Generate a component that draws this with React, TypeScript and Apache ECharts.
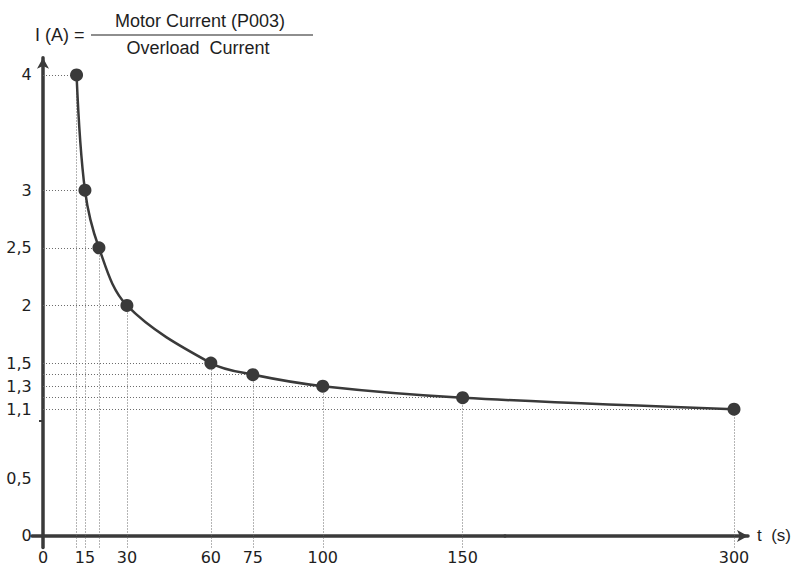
import React, { useEffect, useRef } from "react";
import * as echarts from "echarts";

// ---- data ----
const times: number[] = [12, 15, 20, 30, 60, 75, 100, 150, 300];
const currents: number[] = [4, 3, 2.5, 2, 1.5, 1.4, 1.3, 1.2, 1.1];
const xTickLabels: number[] = [0, 15, 30, 60, 75, 100, 150, 300];
const yTickLabels: number[] = [0, 0.5, 1.1, 1.3, 1.5, 2, 2.5, 3, 4];
const yMinorTicks: number[] = [1];
const xBreak = { start: 165, end: 218 };

const FONT = "'Liberation Sans', Arial, Helvetica, sans-serif";
const TICK_FONT = "'DejaVu Sans', Verdana, sans-serif";
const INK = "#3a3a3a";
const TEXT = "#1e1e1e";

const X_MIN = -4;
const X_MAX = 305;
const Y_MIN = -0.1;
const Y_MAX = 4.15;

export default function App() {
  const ref = useRef<HTMLDivElement>(null);
  useEffect(() => {
    if (!ref.current) return;
    const chart = echarts.init(ref.current, null, { renderer: "svg" });
    const points = times.map((t, i) => [t, currents[i]]);
    const guideData: any[] = [];
    points.forEach(([t, v]) => {
      guideData.push([{ coord: [t, Y_MIN] }, { coord: [t, v] }]);
      guideData.push([{ coord: [0, v] }, { coord: [t, v] }]);
    });
    const option: any = {
      animation: false,
      backgroundColor: "#ffffff",
      textStyle: { fontFamily: FONT },
      grid: {
        left: 31.8,
        right: 51,
        top: 57.7,
        bottom: 19.5,
        containLabel: false,
        outerBoundsMode: "none",
      },
      xAxis: {
        type: "value",
        min: X_MIN,
        max: X_MAX,
        breaks: [{ start: xBreak.start, end: xBreak.end, gap: 0 }],
        breakArea: { show: false },
        splitLine: { show: false },
        name: "t  (s)",
        nameLocation: "end",
        nameGap: 9,
        nameTextStyle: { fontSize: 17, color: TEXT, fontFamily: FONT },
        axisLine: {
          show: true,
          onZero: true,
          symbol: ["none", "arrow"],
          symbolSize: [9, 11],
          lineStyle: { color: INK, width: 3.5 },
        },
        axisTick: { show: false },
        axisLabel: {
          customValues: xTickLabels,
          fontSize: 16,
          color: TEXT,
          fontFamily: TICK_FONT,
          margin: 2,
        },
      },
      yAxis: {
        type: "value",
        min: Y_MIN,
        max: Y_MAX,
        splitLine: { show: false },
        axisLine: {
          show: true,
          onZero: true,
          symbol: ["none", "arrow"],
          symbolSize: [9, 11],
          lineStyle: { color: INK, width: 3.5 },
        },
        axisTick: {
          show: true,
          customValues: yMinorTicks,
          length: 4,
          lineStyle: { color: INK, width: 2 },
        },
        axisLabel: {
          customValues: yTickLabels,
          fontSize: 16,
          color: TEXT,
          fontFamily: TICK_FONT,
          margin: 0,
          formatter: (v: number) => String(v).replace(".", ","),
        },
      },
      graphic: [
        {
          type: "text",
          x: 35,
          y: 35,
          style: {
            text: "I (A) =",
            fontSize: 18,
            fontFamily: FONT,
            fill: TEXT,
            textAlign: "left",
            textVerticalAlign: "middle",
          },
        },
        {
          type: "text",
          x: 200,
          y: 21,
          style: {
            text: "Motor Current (P003)",
            fontSize: 18,
            fontFamily: FONT,
            fill: TEXT,
            textAlign: "center",
            textVerticalAlign: "middle",
          },
        },
        {
          type: "line",
          shape: { x1: 91, y1: 35, x2: 313, y2: 35 },
          style: { stroke: TEXT, lineWidth: 1.2 },
        },
        {
          type: "text",
          x: 198,
          y: 48,
          style: {
            text: "Overload  Current",
            fontSize: 18,
            fontFamily: FONT,
            fill: TEXT,
            textAlign: "center",
            textVerticalAlign: "middle",
          },
        },
      ],
      series: [
        {
          type: "line",
          data: points,
          smooth: 0.35,
          symbol: "circle",
          symbolSize: 13,
          z: 5,
          lineStyle: { color: INK, width: 2.5 },
          itemStyle: { color: INK },
          markLine: {
            silent: true,
            symbol: "none",
            label: { show: false },
            lineStyle: { color: "#6a6a6a", width: 1, type: [1, 2] },
            data: guideData,
            z: 1,
          },
        },
      ],
    };
    chart.setOption(option);
    return () => chart.dispose();
  }, []);
  return (
    <div
      ref={ref}
      style={{ position: "absolute", left: 0, top: 0, width: 799, height: 567 }}
    />
  );
}
